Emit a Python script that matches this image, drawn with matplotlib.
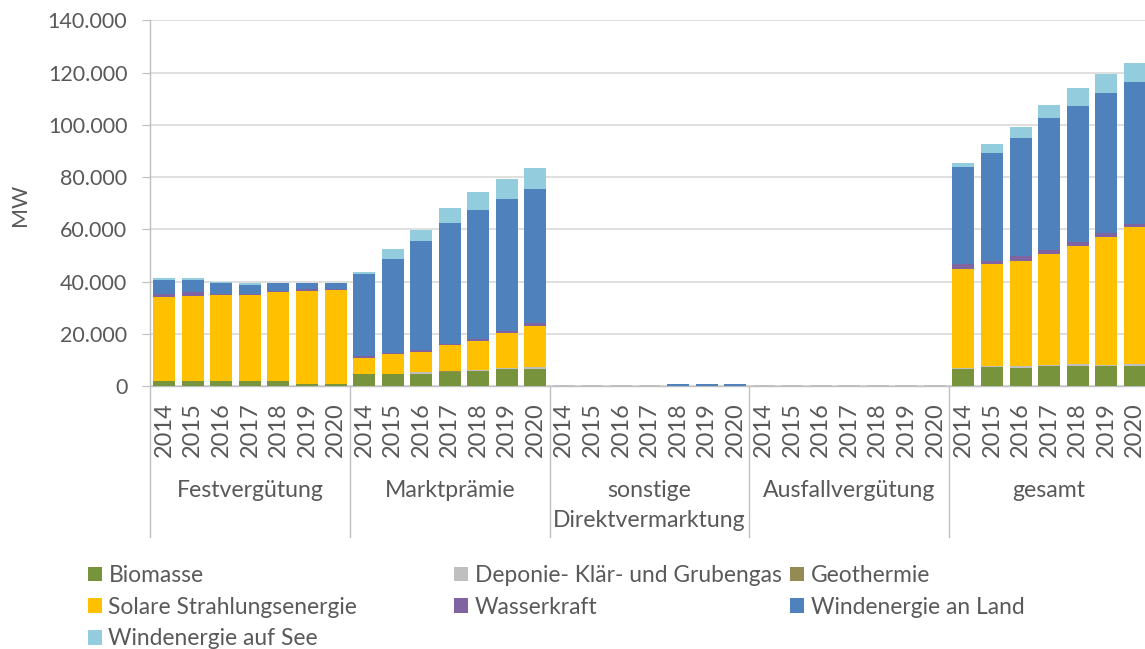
import numpy as np
import matplotlib
matplotlib.use("Agg")
import matplotlib.pyplot as plt
from matplotlib.transforms import blended_transform_factory
from matplotlib.ticker import FuncFormatter

# Daten (MW), je Gruppe 2014-2020
jahre = ["2014", "2015", "2016", "2017", "2018", "2019", "2020"]
gruppen = ["Festvergütung", "Marktprämie", "sonstige\nDirektvermarktung", "Ausfallvergütung", "gesamt"]

biomasse = [2000, 2000, 2000, 2000, 2000, 900, 900,
            4500, 4500, 4500, 5200, 5700, 6400, 6400,
            0, 0, 0, 0, 0, 0, 0,
            0, 0, 0, 0, 0, 0, 0,
            6400, 7200, 7000, 7700, 7700, 7700, 7700]
deponie = [100, 100, 100, 100, 100, 0, 0,
           200, 200, 900, 300, 300, 300, 800,
           300, 300, 300, 300, 0, 0, 0,
           200, 200, 200, 200, 200, 200, 200,
           600, 300, 700, 200, 600, 300, 600]
geothermie = [0, 0, 0, 0, 0, 0, 0,
              0, 0, 0, 300, 0, 0, 0,
              0, 0, 0, 0, 0, 0, 0,
              0, 0, 0, 0, 0, 0, 0,
              0, 0, 0, 300, 0, 0, 0]
solar = [32000, 32500, 32600, 32600, 33700, 35500, 36000,
         6000, 7500, 7700, 9800, 11300, 13700, 15800,
         0, 0, 0, 0, 0, 0, 0,
         0, 0, 0, 0, 0, 0, 0,
         37900, 39200, 40300, 42500, 45200, 49200, 52600]
wasser = [1100, 1200, 600, 600, 700, 600, 200,
          700, 600, 700, 600, 700, 600, 1100,
          0, 0, 0, 0, 0, 0, 0,
          0, 0, 0, 0, 0, 0, 0,
          1800, 1200, 1800, 1200, 1700, 1200, 1200]
wind_land = [5500, 4900, 4100, 3500, 2900, 2300, 2200,
             31600, 35900, 41600, 46300, 49500, 50600, 51300,
             0, 0, 0, 0, 700, 700, 700,
             0, 0, 0, 0, 0, 0, 0,
             37300, 41400, 45300, 50700, 52100, 53700, 54300]
wind_see = [600, 600, 600, 600, 200, 200, 200,
            600, 3800, 4200, 5500, 6600, 7500, 7900,
            0, 0, 0, 0, 0, 0, 0,
            0, 0, 0, 0, 0, 0, 0,
            1200, 3200, 4200, 4900, 6600, 7300, 7300]

serien = [
    ("Biomasse", biomasse, "#77933C"),
    ("Deponie- Klär- und Grubengas", deponie, "#BFBFBF"),
    ("Geothermie", geothermie, "#948A54"),
    ("Solare Strahlungsenergie", solar, "#FFC000"),
    ("Wasserkraft", wasser, "#8064A2"),
    ("Windenergie an Land", wind_land, "#4F81BD"),
    ("Windenergie auf See", wind_see, "#93CDDD"),
]

plt.rcParams["font.family"] = ["Lato", "DejaVu Sans"]
grau = "#595959"
linie = "#BFBFBF"

W, H = 1145, 649
fig = plt.figure(figsize=(W / 100, H / 100), dpi=100)
ax = fig.add_axes([150 / W, 1 - 386 / H, 999 / W, 365.7 / H])

x = np.arange(len(jahre) * len(gruppen))
unten = np.zeros(len(x))
handles = {}
for name, werte, farbe in serien:
    werte = np.array(werte, dtype=float)
    b = ax.bar(x, werte, 0.77, bottom=unten, color=farbe, linewidth=0, label=name, zorder=3)
    handles[name] = b
    unten += werte

ax.set_xlim(-0.5, len(x) - 0.5)
ax.set_ylim(0, 140000)
ax.set_yticks(np.arange(0, 140001, 20000))
ax.yaxis.set_major_formatter(FuncFormatter(lambda v, p: f"{v:,.0f}".replace(",", ".")))
ax.grid(axis="y", color="#D9D9D9", linewidth=1.2, zorder=0)
ax.set_axisbelow(True)

for s in ["top", "right"]:
    ax.spines[s].set_visible(False)
for s in ["left", "bottom"]:
    ax.spines[s].set_color(linie)
    ax.spines[s].set_linewidth(1)

ax.tick_params(axis="y", length=5.8, color=linie, labelsize=15.5, labelcolor=grau, pad=10.5)
ax.set_xticks(x)
ax.set_xticklabels(jahre * len(gruppen), rotation=90, fontsize=17, color=grau)
ax.tick_params(axis="x", length=0, pad=11.5)

trans = blended_transform_factory(ax.transData, fig.transFigure)
for i, g in enumerate(gruppen):
    mitte = i * 7 + 3
    ax.text(mitte, 1 - 480 / H, g, transform=trans, ha="center", va="top",
            fontsize=16.6, color=grau, linespacing=1.55)
for i in range(len(gruppen) + 1):
    xs = i * 7 - 0.5
    ax.plot([xs, xs], [1 - 386 / H, 1 - 537 / H], transform=trans, color=linie,
            linewidth=1, clip_on=False)

fig.text(20 / W, 1 - 205 / H, "MW", rotation=90, ha="center", va="center", fontsize=15.5, color=grau)

spalten = [
    (88, ["Biomasse", "Solare Strahlungsenergie", "Windenergie auf See"]),
    (454, ["Deponie- Klär- und Grubengas", "Wasserkraft"]),
    (790, ["Geothermie", "Windenergie an Land"]),
]
for xpos, namen in spalten:
    leg = fig.legend([handles[n] for n in namen], namen, loc="upper left",
                     bbox_to_anchor=(xpos / W, 1 - 565 / H), frameon=False,
                     borderpad=0, borderaxespad=0, handlelength=0.6, handleheight=0.6,
                     handletextpad=0.3, labelspacing=0.47, fontsize=16.4)
    for t in leg.get_texts():
        t.set_color(grau)

fig.savefig("out.png", dpi=100)
